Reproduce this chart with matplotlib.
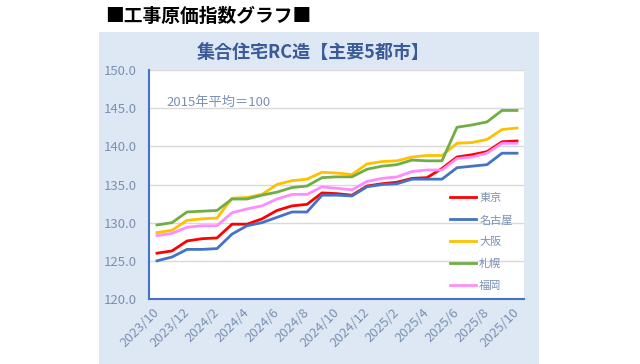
import matplotlib
matplotlib.use("Agg")
import matplotlib.pyplot as plt
from matplotlib.patches import Rectangle

plt.rcParams['font.family'] = ['Noto Sans CJK JP', 'DejaVu Sans']

months = ["2023/10", "2023/11", "2023/12", "2024/1", "2024/2", "2024/3", "2024/4",
          "2024/5", "2024/6", "2024/7", "2024/8", "2024/9", "2024/10", "2024/11",
          "2024/12", "2025/1", "2025/2", "2025/3", "2025/4", "2025/5", "2025/6",
          "2025/7", "2025/8", "2025/9", "2025/10"]

tokyo = [126.0, 126.3, 127.6, 127.9, 128.0, 129.8, 129.8, 130.5, 131.6, 132.2, 132.4,
         133.9, 133.8, 133.6, 134.8, 135.1, 135.3, 135.8, 135.9, 137.1, 138.6, 138.9,
         139.3, 140.6, 140.7]
nagoya = [125.0, 125.5, 126.5, 126.5, 126.6, 128.5, 129.6, 130.0, 130.7, 131.4, 131.4,
          133.6, 133.6, 133.5, 134.7, 135.0, 135.1, 135.7, 135.7, 135.7, 137.2, 137.4,
          137.6, 139.1, 139.1]
osaka = [128.7, 129.0, 130.3, 130.5, 130.6, 133.2, 133.3, 133.7, 135.0, 135.5, 135.7,
         136.6, 136.5, 136.3, 137.7, 138.0, 138.1, 138.6, 138.8, 138.8, 140.4, 140.5,
         140.9, 142.2, 142.4]
sapporo = [129.7, 130.0, 131.4, 131.5, 131.6, 133.1, 133.1, 133.6, 134.0, 134.6, 134.8,
           135.9, 136.0, 136.0, 137.0, 137.4, 137.6, 138.2, 138.1, 138.1, 142.5, 142.8,
           143.2, 144.7, 144.7]
fukuoka = [128.3, 128.6, 129.4, 129.6, 129.6, 131.3, 131.8, 132.2, 133.1, 133.7, 133.7,
           134.7, 134.5, 134.3, 135.4, 135.8, 136.0, 136.7, 136.9, 136.9, 138.4, 138.6,
           139.1, 140.4, 140.4]

series = [("東京", tokyo, "#FF0000"),
          ("名古屋", nagoya, "#4472C4"),
          ("大阪", osaka, "#FFC000"),
          ("札幌", sapporo, "#70AD47"),
          ("福岡", fukuoka, "#FF8CFF")]

label_color = "#7A90B4"

fig = plt.figure(figsize=(6.4, 3.64), dpi=100)
fig.patches.append(Rectangle((99 / 640, 0), 440 / 640, 1 - 32 / 364,
                             transform=fig.transFigure, facecolor="#DEE8F4",
                             edgecolor="none", zorder=-1))

fig.text(105 / 640, 1 - 17 / 364, "■工事原価指数グラフ■", fontsize=13.5,
         fontweight="bold", color="black", va="center", ha="left")
fig.text(313 / 640, 1 - 52 / 364, "集合住宅RC造【主要5都市】", fontsize=13,
         fontweight="bold", color="#3A5A98", va="center", ha="center")

ax = fig.add_axes([149 / 640, 1 - 299 / 364, 375 / 640, 229 / 364])
ax.set_facecolor("white")

x = list(range(len(months)))
for name, vals, color in series:
    ax.plot(x, vals, color=color, lw=2.0, label=name, solid_joinstyle="round")

ax.set_xlim(-8 / 15, 24 + 7 / 15)
ax.set_ylim(120, 150)
ax.set_yticks([120, 125, 130, 135, 140, 145, 150])
ax.set_yticklabels([f"{v:.1f}" for v in [120, 125, 130, 135, 140, 145, 150]])
ax.yaxis.grid(True, color="#D9D9D9", lw=1)
ax.set_axisbelow(True)

ax.set_xticks(x[::2])
ax.set_xticklabels(months[::2], rotation=45, ha="right", va="center",
                   rotation_mode="anchor")
ax.tick_params(axis="x", length=0, pad=8, labelsize=9.5, labelcolor=label_color)
ax.tick_params(axis="y", length=0, pad=9, labelsize=9.5, labelcolor=label_color)

for side in ["top", "right"]:
    ax.spines[side].set_visible(False)
for side in ["left", "bottom"]:
    ax.spines[side].set_color("#4472C4")
    ax.spines[side].set_linewidth(1.5)

ax.text(166 / 640, 1 - 102 / 364, "2015年平均＝100", transform=fig.transFigure,
        fontsize=9.5, color=label_color, va="center", ha="left")

leg = ax.legend(loc="upper left", bbox_to_anchor=(440 / 640, 1 - 183 / 364),
                bbox_transform=fig.transFigure, frameon=False, fontsize=8,
                handlelength=2.35, handletextpad=0.27, labelspacing=1.06)
for t in leg.get_texts():
    t.set_color(label_color)

fig.savefig("out.png", dpi=100)
